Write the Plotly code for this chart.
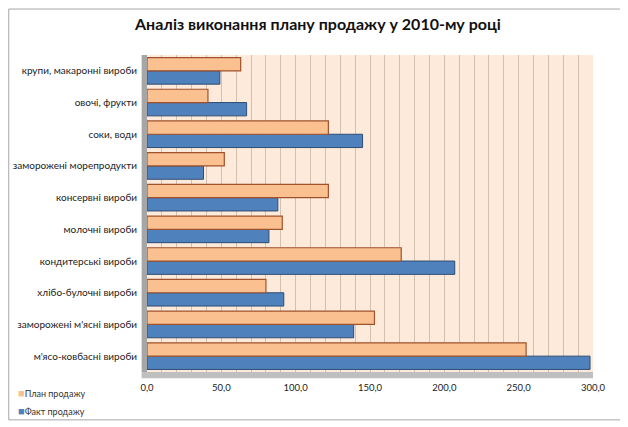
import plotly.graph_objects as go

# categories listed bottom -> top (plotly draws horizontal categories upward)
categories = [
    "м'ясо-ковбасні вироби",
    "заморожені м'ясні вироби",
    "хлібо-булочні вироби",
    "кондитерські вироби",
    "молочні вироби",
    "консервні вироби",
    "заморожені морепродукти",
    "соки, води",
    "овочі, фрукти",
    "крупи, макаронні вироби",
]
plan = [255, 153, 80, 171, 91, 122, 52, 122, 41, 63]
fact = [298, 139, 92, 207, 82, 88, 38, 145, 67, 49]

PLAN_COLOR = "#FAC090"
FACT_COLOR = "#4F81BD"

fig = go.Figure()

# fact first so that plan sits above it inside each group
fig.add_trace(go.Bar(
    y=categories, x=fact, orientation="h", name="Факт продажу",
    marker=dict(color=FACT_COLOR, line=dict(color="#2C4D75", width=1)),
))
fig.add_trace(go.Bar(
    y=categories, x=plan, orientation="h", name="План продажу",
    marker=dict(color=PLAN_COLOR, line=dict(color="#A0522D", width=1.2)),
))

# legend drawn as small text entries, like the Excel one in the lower left corner
legend_items = [("План продажу", PLAN_COLOR, -0.066), ("Факт продажу", FACT_COLOR, -0.12)]
annotations = [
    dict(xref="paper", yref="paper", x=-0.293, y=yy, xanchor="left", yanchor="middle",
         text=f"<span style='color:{col};font-size:11px'>■</span>{name}", showarrow=False,
         font=dict(size=9, color="#333"))
    for name, col, yy in legend_items
]

# page body has an 8px default margin, so the figure is a bit smaller than the window
fig.update_layout(
    width=620, height=419,
    margin=dict(l=139, r=35, t=47, b=55, autoexpand=False),
    paper_bgcolor="white",
    plot_bgcolor="#FDEADA",
    separators=", ",
    barmode="group",
    bargap=0.16,
    bargroupgap=0.0,
    font=dict(family="Lato, 'Open Sans', sans-serif", size=10, color="#222"),
    title=dict(
        text="<b>Аналіз виконання плану продажу у 2010-му році</b>",
        x=0.5, xanchor="center", y=0.962, yanchor="middle",
        font=dict(size=16, color="#111"),
    ),
    showlegend=False,
    annotations=annotations,
    xaxis=dict(
        range=[0, 300], dtick=50, tickformat=".1f",
        showgrid=True, gridcolor="#D2C1AC", gridwidth=1,
        minor=dict(dtick=10, showgrid=True, gridcolor="#D2C1AC", gridwidth=1),
        zeroline=False, showline=False,
        tickfont=dict(size=9.5), ticklabelstandoff=8,
    ),
    yaxis=dict(
        showgrid=False, zeroline=False,
        tickfont=dict(size=10), ticklabelstandoff=9,
    ),
    shapes=[
        # chart frame
        dict(type="rect", xref="paper", yref="paper",
             x0=-0.31, x1=1.063, y0=-0.151, y1=1.145,
             line=dict(color="#A6A6A6", width=1), layer="below"),
        # side wall of the 3D plot
        dict(type="rect", xref="paper", yref="paper",
             x0=-0.012, x1=0.0, y0=0.0, y1=1.0,
             fillcolor="#A6A6A6", line=dict(width=0)),
        # floor
        dict(type="rect", xref="paper", yref="paper",
             x0=-0.012, x1=1.0, y0=-0.02, y1=0.0,
             fillcolor="#BFBFBF", line=dict(width=0)),
    ],
)

fig.write_html("out.html")
